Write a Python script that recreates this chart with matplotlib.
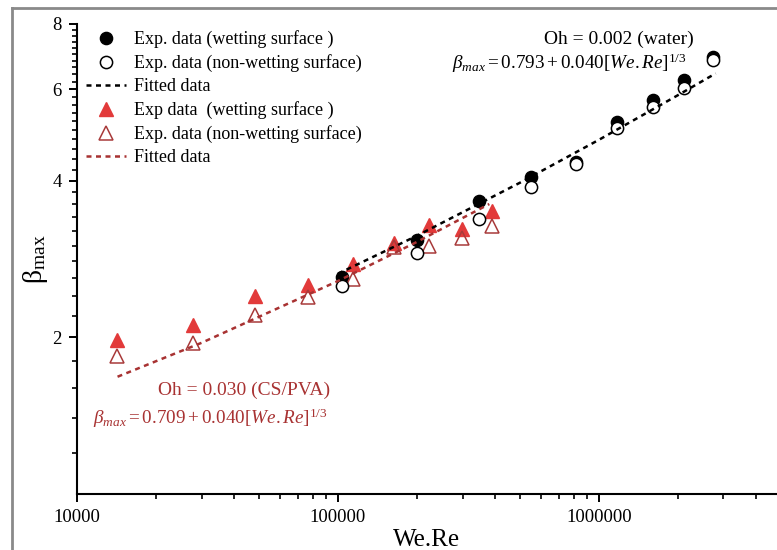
import matplotlib
matplotlib.use("Agg")
import matplotlib.pyplot as plt
from matplotlib.lines import Line2D
from matplotlib.ticker import FixedLocator, NullFormatter
import numpy as np

plt.rcParams['font.family'] = ['Liberation Serif', 'DejaVu Serif']
plt.rcParams['mathtext.fontset'] = 'custom'
plt.rcParams['mathtext.rm'] = 'Liberation Serif'
plt.rcParams['mathtext.it'] = 'Liberation Serif:italic'
plt.rcParams['mathtext.bf'] = 'Liberation Serif:bold'

# ---------------- data ----------------
# Water, Oh = 0.002
water_x = [1.04e5, 2.00e5, 3.48e5, 5.47e5, 8.16e5, 1.17e6, 1.61e6, 2.12e6, 2.73e6]
water_wet = [2.61, 3.07, 3.65, 4.06, 4.35, 5.19, 5.72, 6.25, 6.92]
water_nonwet = [2.51, 2.91, 3.37, 3.89, 4.31, 5.05, 5.55, 6.03, 6.83]
water_fit_x = [1.0e5, 2.0e5, 5.0e5, 1.0e6, 2.0e6, 2.8e6]
water_fit_y = [2.650, 3.132, 3.968, 4.793, 5.833, 6.429]

# CS/PVA, Oh = 0.030
pva_x = [1.42e4, 2.79e4, 4.82e4, 7.69e4, 1.14e5, 1.64e5, 2.24e5, 2.98e5, 3.88e5]
pva_wet = [1.98, 2.11, 2.40, 2.52, 2.77, 3.03, 3.29, 3.23, 3.50]
pva_nonwet = [1.84, 1.95, 2.21, 2.39, 2.59, 2.98, 2.99, 3.11, 3.27]
pva_fit_x = [1.43e4, 3.0e4, 1.0e5, 2.0e5, 3.8e5]
pva_fit_y = [1.680, 1.952, 2.566, 3.048, 3.607]

y_major = [2, 4, 6, 8]
y_minor = [1.2, 1.4, 1.6, 1.8, 2.2, 2.4, 2.6, 2.8, 3.0, 3.2, 3.4, 3.6, 3.8,
           4.2, 4.4, 4.6, 4.8, 5.0, 5.2, 5.4, 5.6, 5.8, 6.2, 6.4, 6.6, 6.8,
           7.0, 7.2, 7.4, 7.6, 7.8]
x_major = [1e4, 1e5, 1e6]
x_major_labels = ['10000', '100000', '1000000']

# ---------------- figure ----------------
fig = plt.figure(figsize=(7.77, 5.5), dpi=100)
ax = fig.add_axes([77/777, 1-494/550, 1-77/777, (494-24)/550])

RED_FILL = '#e23a3a'
RED_DARK = '#a83a3a'
RED_LINE = '#a83232'

h1, = ax.plot(water_x, water_wet, 'o', ms=8.8, mfc='black', mec='black', mew=1.0,
              ls='none', zorder=3)
h2, = ax.plot(water_x, water_nonwet, 'o', ms=8.8, mfc='white', mec='black', mew=1.1,
              ls='none', zorder=3.5)
h3, = ax.plot(water_fit_x, water_fit_y, color='black', lw=1.8, ls=(0, (2.0, 1.8)),
              zorder=5)
h4, = ax.plot(pva_x, pva_wet, '^', ms=9.8, mfc=RED_FILL, mec=RED_FILL, mew=1.0,
              ls='none', zorder=3)
h5, = ax.plot(pva_x, pva_nonwet, '^', ms=9.8, mfc='none', mec=RED_DARK, mew=1.1,
              ls='none', zorder=3.2)
h6, = ax.plot(pva_fit_x, pva_fit_y, color=RED_LINE, lw=1.8, ls=(0, (2.0, 1.8)),
              zorder=5)

ax.set_xscale('log')
ax.set_yscale('log')
ax.set_xlim(1e4, 4.81e6)
ax.set_ylim(1.0, 8.0)

ax.yaxis.set_major_locator(FixedLocator(y_major))
ax.yaxis.set_minor_locator(FixedLocator(y_minor))
ax.set_yticklabels([str(v) for v in y_major])
ax.yaxis.set_minor_formatter(NullFormatter())
ax.xaxis.set_major_locator(FixedLocator(x_major))
ax.set_xticklabels(x_major_labels)
ax.xaxis.set_minor_formatter(NullFormatter())

for s in ['top', 'right']:
    ax.spines[s].set_visible(False)
for s in ['left', 'bottom']:
    ax.spines[s].set_linewidth(1.5)

ax.tick_params(axis='both', which='major', direction='out', length=6, width=1.4,
               labelsize=13.5, pad=5)
ax.tick_params(axis='both', which='minor', direction='out', length=3.5, width=1.2)

ax.set_xlabel('We.Re', fontsize=18, labelpad=2)
ax.set_ylabel(r'$\mathrm{\beta}_{\mathrm{max}}$', fontsize=20, labelpad=2)

leg = ax.legend([h1, h2, h3, h4, h5, h6],
                ['Exp. data (wetting surface )',
                 'Exp. data (non-wetting surface)',
                 'Fitted data',
                 'Exp data  (wetting surface )',
                 'Exp. data (non-wetting surface)',
                 'Fitted data'],
                loc='upper left', bbox_to_anchor=(0.008, 0.994), frameon=False,
                fontsize=13, handlelength=2.2, handletextpad=0.45,
                labelspacing=0.33, borderpad=0.2, borderaxespad=0.0)

ax.text(0.774, 0.968, 'Oh = 0.002 (water)', transform=ax.transAxes,
        ha='center', va='center', fontsize=14, color='black')
ax.text(0.704, 0.917, r'$\beta_{max} = 0.793 + 0.040[We.Re]^{1/3}$',
        transform=ax.transAxes, ha='center', va='center', fontsize=13.8,
        color='black')
ax.text(0.2386, 0.221, 'Oh = 0.030 (CS/PVA)', transform=ax.transAxes,
        ha='center', va='center', fontsize=14, color=RED_LINE)
ax.text(0.19, 0.162, r'$\beta_{max} = 0.709 + 0.040[We.Re]^{1/3}$',
        transform=ax.transAxes, ha='center', va='center', fontsize=13.8,
        color=RED_LINE)

# outer grey frame
fig.add_artist(Line2D([12/777, 1.0], [1-8/550, 1-8/550], transform=fig.transFigure,
                      color='#8a8a8a', lw=2.0))
fig.add_artist(Line2D([12/777, 12/777], [0.0, 1-8/550], transform=fig.transFigure,
                      color='#8a8a8a', lw=2.0))

fig.savefig('out.png', dpi=100)
